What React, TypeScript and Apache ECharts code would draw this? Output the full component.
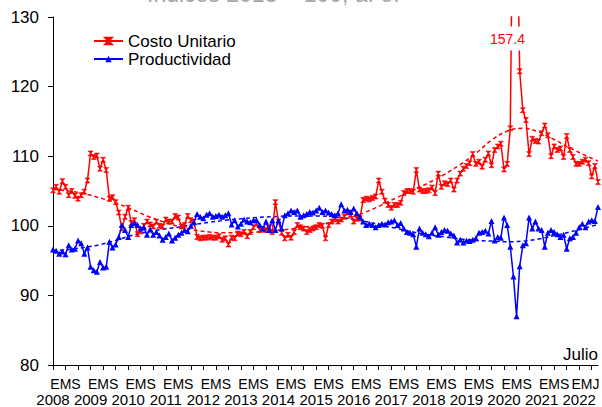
import React, { useEffect, useRef } from "react";
import * as echarts from "echarts";

const FONT = '"Liberation Sans", Arial, sans-serif';
const NARROW = '"Liberation Sans Narrow", "Arial Narrow", "Liberation Sans", sans-serif';

const years = [2008, 2009, 2010, 2011, 2012, 2013, 2014, 2015, 2016, 2017, 2018, 2019, 2020, 2021, 2022];
const lastYearMonths = 7; // Julio 2022
const categories: string[] = [];
years.forEach((y) => {
  const n = y === 2022 ? lastYearMonths : 12;
  for (let m = 1; m <= n; m++) categories.push(`${y}-${String(m).padStart(2, "0")}`);
});

// Costo Unitario (mensual, 2008-01 .. 2022-07)
const costoUnitario = [
  105.1, 105.6, 104.9, 106.4, 105.6, 104.4, 105.0, 104.3, 103.9, 104.4, 104.9, 106.5,
  110.4, 109.9, 110.1, 108.2, 109.5, 108.0, 103.9, 104.1, 103.4, 101.9, 99.6, 101.3,
  102.6, 100.4, 100.8, 98.8, 99.2, 100.0, 100.6, 100.2, 99.9, 100.6, 100.0, 99.9,
  100.9, 100.6, 100.6, 101.4, 101.2, 99.9, 100.1, 101.4, 100.8, 100.6, 98.4, 98.2,
  98.3, 98.3, 98.4, 98.3, 98.3, 98.5, 98.0, 98.2, 97.3, 98.3, 98.2, 98.9,
  98.8, 99.1, 98.5, 99.1, 99.8, 100.3, 99.4, 99.5, 99.4, 99.8, 99.1, 103.4,
  100.6, 99.0, 98.2, 98.7, 98.3, 99.1, 100.1, 99.8, 99.6, 99.1, 99.4, 99.6,
  99.8, 100.1, 100.0, 98.2, 100.1, 100.6, 101.1, 100.6, 100.9, 101.3, 101.9, 101.6,
  100.6, 101.0, 101.1, 103.7, 103.9, 103.8, 104.0, 104.2, 106.5, 104.9, 103.6, 103.0,
  102.6, 103.0, 103.0, 103.3, 104.7, 105.0, 105.0, 104.9, 108.0, 105.2, 105.0, 105.0,
  105.1, 105.5, 104.7, 107.5, 105.6, 106.1, 106.0, 106.5, 105.2, 106.5, 107.5, 108.2,
  108.6, 109.0, 110.3, 108.9, 109.2, 108.5, 109.5, 110.4, 108.7, 110.9, 111.4, 111.8,
  108.1, 108.9, 114.0, 157.4, 150.0, 122.2, 116.6, 115.2, 110.3, 112.5, 112.2, 112.1,
  113.3, 114.4, 113.0, 110.0, 111.4, 110.9, 111.1, 109.9, 112.9, 110.9, 109.9, 108.9,
  108.9, 109.2, 109.5, 109.0, 107.1, 108.6, 106.3,
];

// Productividad
const productividad = [
  96.6, 96.4, 96.0, 96.3, 95.9, 97.2, 96.6, 96.7, 97.9, 97.5, 96.0, 96.9,
  94.1, 93.6, 93.4, 94.8, 94.0, 94.1, 97.7, 96.9, 97.3, 98.4, 100.1, 99.4,
  98.4, 100.1, 100.4, 100.1, 99.6, 99.8, 98.7, 99.5, 98.7, 99.1, 98.6, 98.0,
  98.4, 98.9, 97.9, 98.3, 98.7, 99.0, 99.4, 99.2, 100.0, 100.5, 101.7, 101.3,
  101.1, 101.6, 101.8, 101.3, 101.4, 101.6, 101.3, 101.5, 101.8, 100.2, 100.8, 99.9,
  100.3, 100.9, 100.6, 100.5, 100.8, 100.8, 100.1, 99.6, 100.6, 99.4, 100.8, 99.4,
  100.8, 99.6, 101.5, 101.8, 102.2, 102.0, 102.2, 101.3, 101.5, 101.7, 102.0, 101.9,
  102.2, 102.6, 102.0, 102.2, 101.9, 101.7, 101.5, 101.8, 103.1, 102.2, 102.3, 102.0,
  102.5, 101.8, 101.3, 100.6, 100.1, 100.3, 100.1, 99.8, 100.1, 100.3, 100.2, 100.5,
  100.6, 100.8, 100.1, 100.4, 99.6, 99.1, 99.0, 98.8, 97.0, 99.6, 99.0, 98.8,
  98.5, 99.0, 99.8, 98.7, 99.1, 99.4, 99.3, 98.9, 98.6, 97.6, 98.0, 97.6,
  97.9, 97.8, 98.0, 98.2, 99.0, 99.1, 99.3, 98.9, 100.7, 97.9, 98.4, 98.3,
  101.2, 100.1, 97.0, 92.7, 87.0, 94.2, 97.2, 97.5, 101.2, 99.6, 100.6, 99.6,
  99.4, 97.0, 99.0, 99.4, 99.1, 98.8, 98.4, 98.7, 96.7, 98.2, 98.4, 99.0,
  99.8, 100.3, 99.8, 100.6, 100.8, 100.7, 102.7,
];

// Tendencias (lecturas cada 5 meses)
const trendMonths = [
  "2008-01", "2008-06", "2008-11", "2009-04", "2009-09", "2010-02", "2010-07", "2010-12",
  "2011-05", "2011-10", "2012-03", "2012-08", "2013-01", "2013-06", "2013-11", "2014-04",
  "2014-09", "2015-02", "2015-07", "2015-12", "2016-05", "2016-10", "2017-03", "2017-08",
  "2018-01", "2018-06", "2018-11", "2019-04", "2019-09", "2020-02", "2020-07", "2020-12",
  "2021-05", "2021-10", "2022-03", "2022-07",
];
const costoTrend = [
  105.2, 105.0, 104.6, 104.0, 103.3, 102.4, 101.4, 100.6,
  99.9, 99.4, 99.1, 99.0, 99.0, 99.1, 99.3, 99.5,
  99.8, 100.1, 100.6, 101.2, 102.0, 103.0, 104.1, 105.1,
  106.2, 107.4, 108.8, 110.4, 112.3, 113.6, 114.0, 113.5,
  112.4, 111.2, 110.1, 109.3,
];
const productividadTrend = [
  96.4, 96.6, 96.9, 97.3, 97.9, 98.6, 99.1, 99.5,
  99.8, 100.2, 100.5, 100.8, 101.0, 101.2, 101.3, 101.4,
  101.4, 101.4, 101.3, 101.0, 100.6, 100.1, 99.6, 99.1,
  98.7, 98.4, 98.1, 97.9, 97.8, 97.7, 97.8, 98.1,
  98.6, 99.1, 99.7, 100.2,
];

const yTicks = { min: 80, max: 130, interval: 10 };
const RED = "#ff0000";
const BLUE = "#0000ff";
const hourglass = "path://M0,0L10,0L0,10L10,10Z";

export default function App() {
  const ref = useRef<HTMLDivElement>(null);
  useEffect(() => {
    const chart = echarts.init(ref.current!, null, { renderer: "svg" });
    const peakVal = Math.max(...costoUnitario);
    const peakIdx = costoUnitario.indexOf(peakVal);
    const option: any = {
      animation: false,
      backgroundColor: "#fff",
      textStyle: { fontFamily: FONT },
      grid: { left: 53, right: 4, top: 17, bottom: 42, containLabel: false, outerBoundsMode: "none" },
      legend: {
        data: ["Costo Unitario", "Productividad"],
        orient: "vertical",
        left: 88,
        top: 27,
        itemWidth: 29,
        itemHeight: 8,
        itemGap: 0,
        textStyle: { fontSize: 17, color: "#000", fontFamily: FONT, lineHeight: 18 },
      },
      graphic: [
        {
          type: "text",
          x: 147,
          y: -18,
          silent: true,
          style: { text: "Índices 2013 = 100, a. e.", fontSize: 23, fill: "#a6a6a6", fontFamily: FONT },
        },
        {
          type: "text",
          x: 598,
          y: 363,
          silent: true,
          style: { text: "Julio", fontSize: 17, fill: "#000", fontFamily: FONT, align: "right", verticalAlign: "bottom" },
        },
      ],
      xAxis: [
        {
          type: "category",
          data: categories,
          boundaryGap: false,
          axisLine: { show: true, lineStyle: { color: "#000", width: 1 } },
          axisTick: { show: true, interval: (i: number) => i % 4 === 0, length: 5, lineStyle: { color: "#000" } },
          axisLabel: {
            interval: (i: number) => (i % 12 === 4 && i < 168) || i === 170,
            formatter: (_v: string, i: number) => (i === 170 ? "EMJ" : "EMS"),
            fontSize: 14,
            lineHeight: 12,
            fontFamily: NARROW,
            color: "#000",
            margin: 13.3,
          },
          splitLine: { show: false },
        },
        {
          type: "category",
          data: categories,
          boundaryGap: false,
          position: "bottom",
          axisLine: { show: false },
          axisTick: { show: false },
          axisLabel: {
            interval: (i: number) => i % 12 === 0,
            formatter: (v: string) => v.slice(0, 4),
            fontSize: 15,
            lineHeight: 12,
            color: "#000",
            fontFamily: FONT,
            margin: 28.5,
          },
          splitLine: { show: false },
        },
      ],
      yAxis: {
        type: "value",
        min: yTicks.min,
        max: yTicks.max,
        interval: yTicks.interval,
        axisLine: { show: true, lineStyle: { color: "#000", width: 1 } },
        axisTick: { show: true, length: 5, lineStyle: { color: "#000" } },
        axisLabel: { fontSize: 17, color: "#000", margin: 14, fontFamily: FONT },
        splitLine: { show: false },
      },
      series: [
        {
          name: "Costo Unitario Tendencia",
          type: "line",
          data: trendMonths.map((m, k) => [m, costoTrend[k]]),
          smooth: 0.4,
          symbol: "none",
          lineStyle: { color: RED, width: 1.5, type: [4, 3] },
          z: 1,
        },
        {
          name: "Productividad Tendencia",
          type: "line",
          data: trendMonths.map((m, k) => [m, productividadTrend[k]]),
          smooth: 0.4,
          symbol: "none",
          lineStyle: { color: BLUE, width: 1.5, type: [4, 3] },
          z: 1,
        },
        {
          name: "Costo Unitario",
          type: "line",
          data: costoUnitario,
          symbol: hourglass,
          symbolSize: 5,
          showAllSymbol: true,
          color: RED,
          itemStyle: { color: RED, borderColor: RED, borderWidth: 0.6 },
          lineStyle: { color: RED, width: 1.5 },
          z: 3,
          markPoint: {
            symbol: "rect",
            symbolSize: 0,
            data: [{ coord: [categories[peakIdx], 126.9], value: peakVal }],
            label: {
              show: true,
              position: "inside",
              formatter: (p: any) => Number(p.value).toFixed(1),
              color: RED,
              fontSize: 14,
              fontFamily: FONT,
              backgroundColor: "#fff",
              padding: [5, 1],
              offset: [-6, 0],
            },
          },
        },
        {
          name: "Productividad",
          type: "line",
          data: productividad,
          symbol: "triangle",
          symbolSize: 6,
          showAllSymbol: true,
          color: BLUE,
          itemStyle: { color: BLUE },
          lineStyle: { color: BLUE, width: 1.5 },
          z: 4,
        },
      ],
    };
    chart.setOption(option);
    return () => chart.dispose();
  }, []);
  return (
    <div
      ref={ref}
      style={{ position: "absolute", left: 0, top: 0, width: 602, height: 407, background: "#fff" }}
    />
  );
}
